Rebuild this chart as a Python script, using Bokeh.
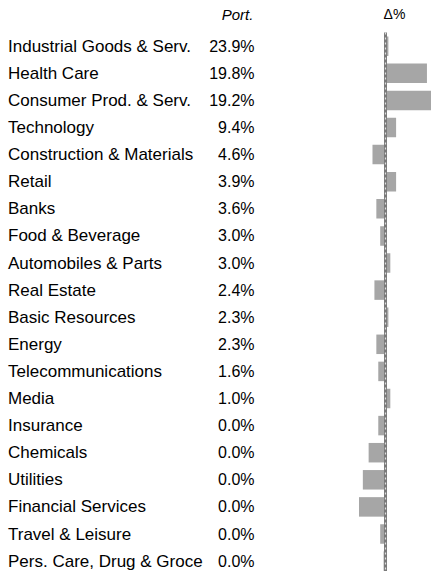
from bokeh.plotting import figure
from bokeh.models import ColumnDataSource, Range1d
from bokeh.core.properties import value
from bokeh.embed import file_html
from bokeh.resources import INLINE

sectors = [
    "Industrial Goods & Serv.", "Health Care", "Consumer Prod. & Serv.", "Technology",
    "Construction & Materials", "Retail", "Banks", "Food & Beverage", "Automobiles & Parts",
    "Real Estate", "Basic Resources", "Energy", "Telecommunications", "Media", "Insurance",
    "Chemicals", "Utilities", "Financial Services", "Travel & Leisure", "Pers. Care, Drug & Groce",
]
port = [23.9, 19.8, 19.2, 9.4, 4.6, 3.9, 3.6, 3.0, 3.0, 2.4, 2.3, 2.3, 1.6, 1.0, 0.0, 0.0, 0.0, 0.0, 0.0, 0.0]
delta = [0.3, 4.3, 4.8, 1.1, -1.35, 1.1, -0.95, -0.55, 0.5, -1.15, 0.3, -0.95, -0.75, 0.5,
         -0.75, -1.75, -2.35, -2.75, -0.55, -0.2]
headers = ["Port.", "\u0394%"]

FONT = value("Liberation Sans")
W, H = 431, 571
PX_X = 9.64          # pixels per delta unit
ZERO_X = 385.0       # zero line in frame px
ROW = 27.1           # row spacing px
ROW0 = 45.7          # first row centre px from top

x0 = -ZERO_X / PX_X
x1 = (W - ZERO_X) / PX_X
y_top = -ROW0 / ROW
y_bot = (H - ROW0) / ROW


def fx(px):
    return (px - ZERO_X) / PX_X


def fy(px):
    return (px - ROW0) / ROW


p = figure(width=W, height=H, output_backend="svg", toolbar_location=None,
           x_range=Range1d(x0, x1), y_range=Range1d(y_bot, y_top),
           min_border=0, min_border_left=0, min_border_right=0,
           min_border_top=0, min_border_bottom=0)
p.axis.visible = False
p.grid.visible = False
p.outline_line_color = None
p.background_fill_color = "white"
p.border_fill_color = "white"

rows = list(range(len(sectors)))
src = ColumnDataSource(dict(
    y=rows, name=sectors,
    port=[f"{v:.1f}%" for v in port],
    delta=delta,
))

# bars
p.hbar(y="y", left=0, right="delta", height=19.5 / ROW, source=src,
       fill_color="#a6a6a6", line_color=None)

# zero line (dashed)
line_top = fy(32)
p.segment(x0=[0], y0=[line_top], x1=[0], y1=[y_bot], line_color="#7a7a7a", line_width=3)
p.segment(x0=[0], y0=[line_top], x1=[0], y1=[y_bot], line_color="#e0e0e0", line_width=1.2,
          line_dash="2 3")

# sector labels
p.text(x=fx(7.5), y="y", text="name", source=src, text_font=FONT, text_font_size="17px",
       text_baseline="middle", text_align="left", text_color="black")
# portfolio values
p.text(x=fx(254), y="y", text="port", source=src, text_font=FONT,
       text_font_size="16px", text_baseline="middle", text_align="right", text_color="black")

# headers
hy = fy(13.6)
p.text(x=[fx(237)], y=[hy], text=[headers[0]], text_font=FONT,
       text_font_size="15px", text_font_style="italic", text_baseline="middle",
       text_align="center", text_color="black")
p.text(x=[fx(394)], y=[hy], text=[headers[1]], text_font=FONT,
       text_font_size="14px", text_baseline="middle", text_align="center", text_color="black")

open("out.html", "w").write(file_html(p, INLINE))
